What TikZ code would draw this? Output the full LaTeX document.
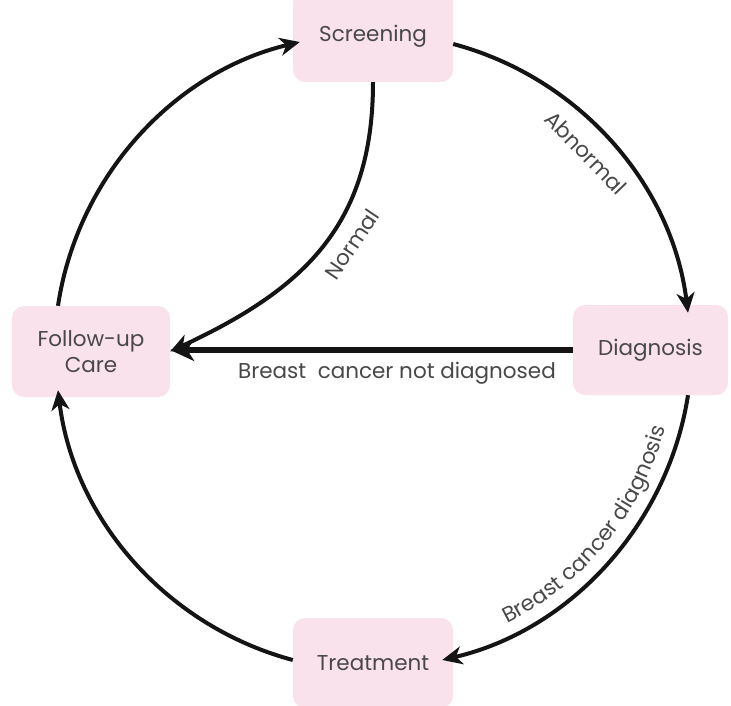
\documentclass[tikz,border=0pt]{standalone}
\usepackage{fontspec}
\setmainfont{Poppins}
\usetikzlibrary{arrows.meta,decorations.text}
\definecolor{pinkfill}{RGB}{250,226,236}
\definecolor{textgray}{RGB}{72,72,74}
\definecolor{arrowblack}{RGB}{20,20,20}
\newcommand{\boxfont}{\fontsize{21.5}{25.5}\selectfont}
\begin{document}
\begin{tikzpicture}[x=1pt,y=1pt,
  box/.style={fill=pinkfill, rounded corners=12pt, text=textgray, font=\boxfont, align=center, inner sep=0pt},
  lbl/.style={text=textgray, font=\boxfont, inner sep=0pt},
  arcarrow/.style={line width=4pt, draw=arrowblack, -{Stealth[length=20pt,width=18pt,inset=6pt]}},
  mainarrow/.style={line width=6.5pt, draw=arrowblack, -{Stealth[length=24pt,width=22pt,inset=7pt]}}]
\useasboundingbox (0,0) rectangle (731,-706);
\node[box, minimum width=160pt, minimum height=92pt] (scr) at (373,-36) {Screening};
\node[box, minimum width=158pt, minimum height=91pt] (fu) at (91,-351.5) {Follow-up\\Care};
\node[box, minimum width=155pt, minimum height=90pt] (diag) at (650.5,-350) {Diagnosis};
\node[box, minimum width=160pt, minimum height=90pt] (treat) at (373,-663) {Treatment};
% circle arcs
\draw[arcarrow] ([xshift=-33pt]fu.north) to[bend left=34, looseness=0.93] ([xshift=7pt,yshift=-6pt]scr.west);
\draw[arcarrow] ([yshift=-8pt]scr.east) to[bend left=34, looseness=0.93] ([xshift=37.5pt,yshift=-8pt]diag.north);
\draw[arcarrow] ([xshift=37.5pt]diag.south) to[bend left=34, looseness=0.93] ([xshift=-11pt,yshift=3pt]treat.east);
\draw[arcarrow] ([yshift=3pt]treat.west) to[bend left=34, looseness=0.93] ([xshift=-33pt,yshift=7pt]fu.south);
% normal
\draw[arcarrow] (scr.south) to[out=-90, in=25, looseness=1.1] (fu.east);
% not diagnosed
\draw[mainarrow] (diag.west) -- (fu.east |- diag.west);
% labels
\node[lbl, rotate=-46] (abn) at (586,-153) {Abnormal};
\node[lbl, rotate=56] (nrm) at (352,-244) {Normal};
\node[lbl] (nd) at (397,-373) {Breast\ \ cancer not diagnosed};
\path[decorate, decoration={text along path, text align=center,
  text={|\boxfont\color{textgray}|Breast cancer diagnosis}}]
  (372,-352) ++(-66:303) arc[start angle=-66, end angle=-12, radius=303];
\end{tikzpicture}
\end{document}
